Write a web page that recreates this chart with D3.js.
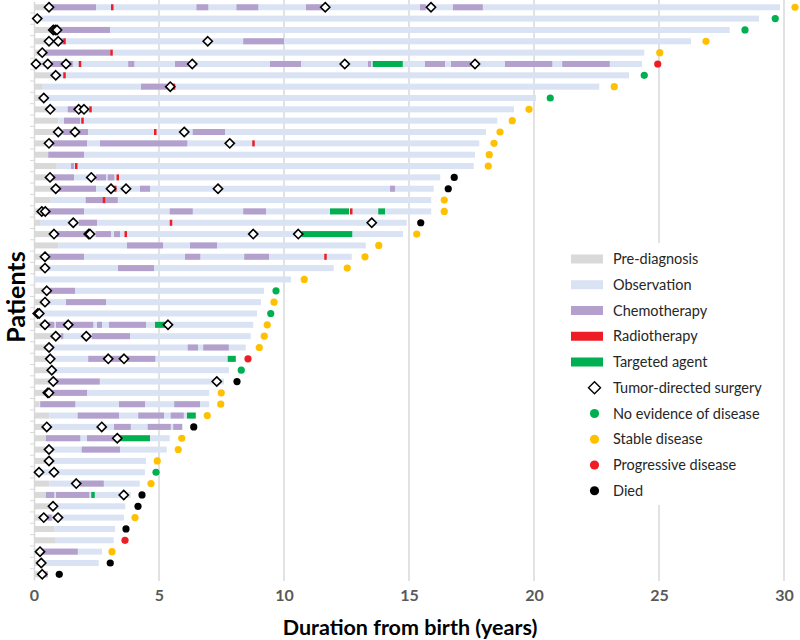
<!DOCTYPE html>
<html>
<head>
<meta charset="utf-8">
<script src="https://cdn.jsdelivr.net/npm/d3@7"></script>
<style>
  html, body { margin: 0; padding: 0; background: #fff; }
  #chart { width: 800px; height: 640px; }
</style>
</head>
<body>
<div id="chart"></div>
<script>
// one entry per patient, top row first (years from birth)
const preDiagEnd = [0.65, 0, 0.7, 0.55, 0.3, 0, 0.8, 0.35, 0.3, 0.6,
  0.97, 0.8, 0.6, 0.57, 0.91, 0.6, 0.8, 0.67, 0.3, 0.24,
  0.75, 0.97, 0.4, 0.35, 0, 0.45, 0.4, 0.1, 0.45, 0.8,
  0.55, 0.6, 0.7, 0.7, 0.5, 0.22, 0.61, 0.45, 0.45, 0.55,
  0.55, 0.15, 0.61, 0.45, 0.7, 0.3, 0.81, 0.87, 0.2, 0.2, 0.3];

const followEnd = [29.84, 29.0, 27.83, 26.28, 24.41, 24.32, 23.8, 22.61, 20.08, 19.2,
  18.53, 18.08, 17.81, 17.64, 17.59, 16.25, 15.99, 15.89, 15.89, 14.91,
  14.76, 13.27, 12.71, 11.99, 10.28, 9.2, 9.08, 8.92, 8.77, 8.67,
  8.47, 8.07, 7.8, 7.6, 7.01, 7.01, 6.47, 5.93, 5.43, 5.31,
  4.48, 4.44, 4.23, 3.87, 3.65, 3.6, 3.24, 3.19, 2.72, 2.59, 0.55];

const outcomeTime = [30.44, 29.65, 28.44, 26.88, 25.03, 24.95, 24.41, 23.21, 20.65, 19.8,
  19.13, 18.64, 18.4, 18.21, 18.17, 16.81, 16.57, 16.41, 16.41, 15.47,
  15.31, 13.79, 13.24, 12.53, 10.81, 9.68, 9.6, 9.47, 9.33, 9.21,
  9.01, 8.56, 8.29, 8.12, 7.49, 7.47, 6.93, 6.39, 5.91, 5.77,
  4.93, 4.88, 4.68, 4.32, 4.16, 4.04, 3.68, 3.64, 3.12, 3.05, 1.01];

const outcomeStatus = ["SD", "NED", "NED", "SD", "SD", "PD", "NED", "SD", "NED", "SD",
  "SD", "SD", "SD", "SD", "SD", "D", "D", "SD", "SD", "D",
  "SD", "SD", "SD", "SD", "SD", "NED", "SD", "NED", "SD", "SD",
  "SD", "PD", "NED", "D", "SD", "SD", "SD", "D", "SD", "SD",
  "SD", "NED", "SD", "D", "D", "SD", "D", "PD", "SD", "D", "D"];

// [row, start, end]
const chemo = [
  [0, 0.7, 2.48], [0, 6.5, 6.97], [0, 8.1, 8.97], [0, 10.88, 11.64], [0, 15.44, 15.67], [0, 16.76, 17.95],
  [2, 0.77, 3.04],
  [3, 1.0, 1.17], [3, 8.37, 10.0],
  [4, 0.47, 3.04],
  [5, 0.7, 1.55], [5, 3.77, 4.01], [5, 5.64, 6.24], [5, 9.44, 10.68], [5, 13.36, 13.48],
  [5, 15.64, 16.44], [5, 16.68, 17.47], [5, 18.84, 20.73], [5, 21.13, 23.03],
  [7, 4.28, 5.31],
  [9, 1.35, 1.97],
  [10, 1.2, 1.84],
  [11, 1.17, 2.16], [11, 6.35, 7.64],
  [12, 0.77, 2.12], [12, 2.64, 6.13],
  [13, 0.57, 2.0],
  [14, 1.48, 1.6],
  [15, 0.77, 1.6], [15, 2.48, 2.88], [15, 2.95, 3.21],
  [16, 0.97, 2.48], [16, 4.24, 4.64], [16, 14.24, 14.44],
  [17, 2.07, 3.35],
  [18, 0.57, 2.0], [18, 5.43, 6.35], [18, 8.37, 9.28],
  [19, 1.8, 2.52],
  [20, 0.91, 2.17], [20, 2.47, 3.08], [20, 3.2, 3.44],
  [21, 3.72, 5.16], [21, 6.24, 7.32],
  [22, 0.57, 2.0], [22, 6.04, 6.65], [22, 8.41, 9.4],
  [23, 3.36, 4.8],
  [25, 0.64, 1.64],
  [26, 1.28, 2.88],
  [28, 0.57, 0.81], [28, 0.88, 2.37], [28, 2.52, 2.72], [28, 3.0, 4.48],
  [29, 1.08, 1.17], [29, 2.32, 3.84],
  [30, 6.15, 6.56], [30, 6.77, 7.79],
  [31, 2.17, 4.85],
  [33, 0.88, 2.63],
  [34, 0.71, 2.12],
  [35, 0.25, 1.65], [35, 3.4, 4.44], [35, 5.61, 6.64],
  [36, 1.75, 3.4], [36, 4.17, 5.2], [36, 5.47, 5.99],
  [37, 3.2, 3.87], [37, 4.55, 5.47], [37, 5.57, 5.93],
  [38, 0.47, 1.85], [38, 2.12, 3.31],
  [39, 1.91, 3.44],
  [42, 1.84, 2.79],
  [43, 0.47, 0.81], [43, 0.88, 2.21],
  [45, 0.55, 0.71],
  [48, 0.33, 1.75],
  [50, 0.44, 0.55]
];

// [row, time]
const radio = [
  [0, 3.13], [3, 1.22], [4, 3.1], [5, 1.84], [6, 1.22], [7, 5.6], [9, 2.26], [10, 1.94],
  [11, 4.85], [12, 8.78], [14, 1.69], [15, 3.35], [16, 3.25], [17, 2.8], [18, 12.69],
  [19, 5.48], [20, 3.67], [22, 11.66], [28, 5.42], [37, 0.55]
];

// [row, start, end]
const targeted = [
  [5, 13.55, 14.75], [18, 11.84, 12.6], [18, 13.77, 14.04], [20, 10.71, 12.73],
  [28, 4.84, 5.37], [31, 7.75, 8.07], [36, 6.12, 6.47], [38, 3.41, 4.64], [43, 2.29, 2.43]
];

// [row, time]
const surgery = [
  [0, 0.6], [0, 11.65], [0, 15.88], [1, 0.13], [2, 0.77], [2, 0.85], [2, 0.92],
  [3, 0.6], [3, 0.97], [3, 6.95], [4, 0.33],
  [5, 0.08], [5, 0.55], [5, 1.28], [5, 6.33], [5, 12.43], [5, 17.64],
  [6, 0.87], [7, 5.45], [8, 0.39], [9, 0.65], [9, 1.79], [9, 2.0],
  [11, 0.97], [11, 1.64], [11, 6.01], [12, 0.6], [12, 7.83],
  [15, 0.64], [15, 2.29], [16, 0.87], [16, 3.08], [16, 3.68], [16, 7.36],
  [18, 0.31], [18, 0.45], [19, 1.57], [19, 13.51],
  [20, 0.8], [20, 2.19], [20, 2.24], [20, 8.77], [20, 10.57],
  [22, 0.44], [23, 0.44], [25, 0.51], [26, 0.44], [27, 0.15], [27, 0.21],
  [28, 0.44], [28, 1.37], [28, 5.36], [29, 0.87], [29, 2.09], [30, 0.6],
  [31, 0.65], [31, 2.97], [31, 3.6], [32, 0.71], [33, 0.77], [33, 7.31],
  [34, 0.55], [34, 0.6], [37, 0.51], [37, 2.71], [38, 3.33], [39, 0.6], [40, 0.6],
  [41, 0.2], [41, 0.8], [42, 1.69], [43, 3.59], [44, 0.76], [45, 0.39], [45, 0.96],
  [48, 0.24], [49, 0.29], [50, 0.33]
];

const xTicks = [0, 5, 10, 15, 20, 25, 30];

const colors = {
  pre: "#d9d9d9",
  obs: "#dae3f3",
  chemo: "#b4a0cd",
  radio: "#ee1c25",
  targeted: "#00b050",
  NED: "#00b050",
  SD: "#ffc000",
  PD: "#ee1c25",
  D: "#000000"
};

const legendBars = [
  ["Pre-diagnosis", "pre"], ["Observation", "obs"], ["Chemotherapy", "chemo"],
  ["Radiotherapy", "radio"], ["Targeted agent", "targeted"]
];
const legendDots = [
  ["No evidence of disease", "NED"], ["Stable disease", "SD"],
  ["Progressive disease", "PD"], ["Died", "D"]
];

function swimmer() {
  const width = 800, height = 640;
  const font = "Lato, 'Open Sans', sans-serif";

  const svg = d3.select("#chart")
    .append("svg")
    .attr("width", width)
    .attr("height", height)
    .attr("viewBox", `0 0 ${width} ${height}`);

  const rows = d3.range(followEnd.length);
  const x = d3.scaleLinear().domain([0, 30]).range([34, 784]);
  const y = d3.scaleBand().domain(rows).range([1.6, 580]);
  const barH = 6;
  const mid = i => y(i) + y.bandwidth() / 2;

  // grid
  svg.append("g")
    .selectAll("line")
    .data(xTicks.slice(1))
    .join("line")
    .attr("x1", d => x(d)).attr("x2", d => x(d))
    .attr("y1", 0).attr("y2", 581)
    .attr("stroke", "#d9d9d9")
    .attr("stroke-width", 1.5);

  // y axis with small ticks
  const yAxis = d3.axisLeft(y).tickSize(0).tickFormat("");
  const yg = svg.append("g").attr("transform", `translate(${x(0)},0)`).call(yAxis);
  yg.select(".domain").attr("stroke", "#d9d9d9").attr("stroke-width", 1.5);
  yg.selectAll(".tick").remove();
  yg.selectAll(".rt")
    .data(rows.slice(1))
    .join("line")
    .attr("x1", -4).attr("x2", 0)
    .attr("y1", d => y(d)).attr("y2", d => y(d))
    .attr("stroke", "#d9d9d9");

  // x axis labels
  const xAxis = d3.axisBottom(x).tickValues(xTicks).tickSize(0).tickPadding(0);
  const xg = svg.append("g").attr("transform", "translate(0,589)").call(xAxis);
  xg.select(".domain").remove();
  xg.selectAll("text")
    .attr("dy", "0.75em")
    .style("font-family", font)
    .style("font-weight", "bold")
    .style("font-size", "16px")
    .style("fill", "#595959");

  // observation + pre-diagnosis
  svg.append("g")
    .selectAll("rect")
    .data(rows)
    .join("rect")
    .attr("x", i => x(preDiagEnd[i]))
    .attr("y", i => mid(i) - barH / 2)
    .attr("width", i => x(followEnd[i]) - x(preDiagEnd[i]))
    .attr("height", barH)
    .attr("fill", colors.obs);

  svg.append("g")
    .selectAll("rect")
    .data(rows.filter(i => preDiagEnd[i] > 0))
    .join("rect")
    .attr("x", x(0))
    .attr("y", i => mid(i) - barH / 2)
    .attr("width", i => x(preDiagEnd[i]) - x(0))
    .attr("height", barH)
    .attr("fill", colors.pre);

  const segments = (data, color) => svg.append("g")
    .selectAll("rect")
    .data(data)
    .join("rect")
    .attr("x", d => x(d[1]))
    .attr("y", d => mid(d[0]) - barH / 2)
    .attr("width", d => x(d[2]) - x(d[1]))
    .attr("height", barH)
    .attr("fill", color);

  segments(chemo, colors.chemo);
  segments(targeted, colors.targeted);
  segments(radio.map(d => [d[0], d[1] - 0.05, d[1] + 0.05]), colors.radio);

  // surgeries
  const diamond = "M0,-4.6L4.6,0L0,4.6L-4.6,0Z";
  svg.append("g")
    .selectAll("path")
    .data(surgery)
    .join("path")
    .attr("d", diamond)
    .attr("transform", d => `translate(${x(d[1])},${mid(d[0])})`)
    .attr("fill", "#fff")
    .attr("stroke", "#000")
    .attr("stroke-width", 1.6);

  // outcomes
  svg.append("g")
    .selectAll("circle")
    .data(rows)
    .join("circle")
    .attr("cx", i => x(outcomeTime[i]))
    .attr("cy", i => mid(i))
    .attr("r", 3.6)
    .attr("fill", i => colors[outcomeStatus[i]]);

  // axis titles
  svg.append("text")
    .attr("x", 410).attr("y", 635)
    .attr("text-anchor", "middle")
    .text("Duration from birth (years)")
    .style("font-family", font)
    .style("font-weight", "bold")
    .style("font-size", "21.5px")
    .style("fill", "#000");

  svg.append("text")
    .attr("transform", "rotate(-90)")
    .attr("x", -297).attr("y", 25)
    .attr("text-anchor", "middle")
    .text("Patients")
    .style("font-family", font)
    .style("font-weight", "bold")
    .style("font-size", "25px")
    .style("fill", "#000");

  // legend
  const lg = svg.append("g");
  lg.append("rect")
    .attr("x", 556).attr("y", 243)
    .attr("width", 222).attr("height", 262)
    .attr("fill", "#fff");
  const step = 25.75, top = 259;
  legendBars.forEach(([label, key], i) => {
    lg.append("rect")
      .attr("x", 571).attr("y", top + i * step - 4.5)
      .attr("width", 32).attr("height", 9)
      .attr("fill", colors[key]);
  });
  lg.append("path")
    .attr("d", "M0,-6L6,0L0,6L-6,0Z")
    .attr("transform", `translate(594.5,${top + 5 * step})`)
    .attr("fill", "#fff")
    .attr("stroke", "#000")
    .attr("stroke-width", 1.4);
  legendDots.forEach(([label, key], i) => {
    lg.append("circle")
      .attr("cx", 594.5).attr("cy", top + (6 + i) * step)
      .attr("r", 4.6)
      .attr("fill", colors[key]);
  });
  const labels = legendBars.map(d => d[0])
    .concat(["Tumor-directed surgery"], legendDots.map(d => d[0]));
  lg.selectAll("text.lab")
    .data(labels)
    .join("text")
    .attr("class", "lab")
    .attr("x", 613)
    .attr("y", (d, i) => top + i * step)
    .attr("dy", "0.35em")
    .text(d => d)
    .style("font-family", font)
    .style("font-size", "14.5px")
    .style("fill", "#262626");
}

swimmer();
</script>
</body>
</html>
